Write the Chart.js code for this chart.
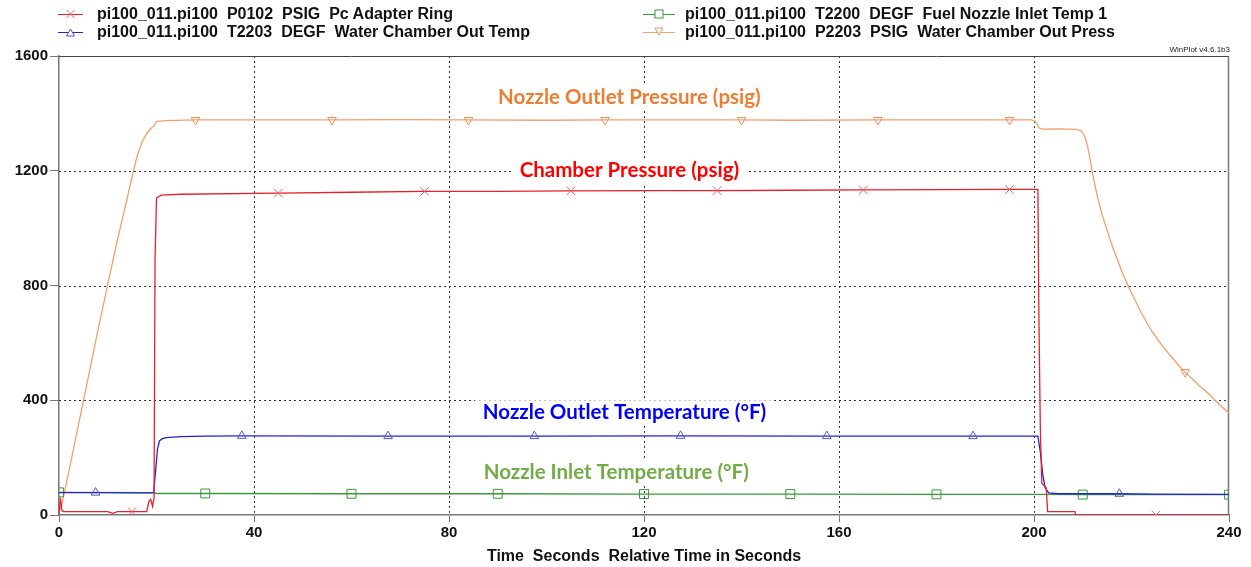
<!DOCTYPE html>
<html lang="en">
<head>
<meta charset="UTF-8">
<title>WinPlot pi100_011</title>
<script src="https://cdn.jsdelivr.net/npm/chart.js@4.4.1/dist/chart.umd.min.js"></script>
<style>
  body { margin: 0; background: #fff; }
  #wrap { position: relative; width: 1251px; height: 567px; font-family: "Liberation Sans", Arial, sans-serif; }
  #chart { position: absolute; left: 0; top: 0; }
  .leg { position: absolute; height: 18px; font-weight: bold; font-size: 16px; line-height: 18px; color: #111; white-space: pre; }
  .leg svg { position: absolute; top: 0; }
  .leg span { position: absolute; top: 0; }
  #ver { position: absolute; right: 21px; top: 45px; font-size: 8px; color: #222; }
</style>
</head>
<body>
<div id="wrap">
  <canvas id="chart" width="1251" height="567"></canvas>
  <div id="legend"></div>
  <div id="ver">WinPlot v4.6.1b3</div>
</div>
<script>
// P0102 PSIG Pc Adapter Ring (chamber pressure)
const pcTime = [0, 0.3, 0.6, 1, 5, 10, 11, 12, 15, 18, 18.4, 18.8, 19.2, 19.5, 19.7, 20, 21, 25, 45, 60, 75, 90, 105, 120, 135, 150, 165, 180, 195, 200.8, 201.0, 201.3, 201.6, 202.5, 202.8, 205, 208.4, 208.5, 215, 225, 240];
const pcPsig = [0, 60, 15, 12, 12, 12, 6, 12, 12, 12, 45, 55, 30, 60, 890, 1105, 1115, 1118, 1122, 1125, 1128, 1128, 1130, 1131, 1131, 1132, 1133, 1134, 1135, 1135, 700, 300, 110, 95, 12, 12, 12, 0, 0, 0, 0];
const pcMarks = [15, 45, 75, 105, 135, 165, 195, 225];

// T2203 DEGF Water Chamber Out Temp (nozzle outlet temperature)
const outTempTime = [0, 7.5, 15, 19.4, 19.8, 20.2, 20.6, 21.2, 22, 25, 30, 37.5, 67.5, 97.5, 127.5, 157.5, 187.5, 200.8, 201.3, 201.8, 202.3, 203, 205, 217.5, 225, 240];
const outTempF = [78, 78, 77, 77, 150, 230, 258, 266, 270, 273, 275, 276, 275, 275, 276, 275, 275, 275, 220, 140, 95, 77, 74, 74, 73, 72];
const outTempMarks = [7.5, 37.5, 67.5, 97.5, 127.5, 157.5, 187.5, 217.5];

// T2200 DEGF Fuel Nozzle Inlet Temp 1
const inTempTime = [0, 19.5, 20, 30, 60, 90, 120, 150, 180, 200, 210, 240];
const inTempF = [79, 78, 75, 75, 74, 74, 73, 73, 72, 72, 71, 71];
const inTempMarks = [0, 30, 60, 90, 120, 150, 180, 210, 240];

// P2203 PSIG Water Chamber Out Press (nozzle outlet pressure)
const outPressTime = [0, 0.5, 2, 4, 6, 8, 10, 12, 14, 15, 16, 17, 18, 19, 19.6, 20, 22, 28, 40, 56, 70, 84, 100, 112, 130, 140, 150, 168, 180, 195, 199.5, 200.3, 201, 201.6, 205, 208.8, 209.8, 210.5, 211, 211.5, 212, 213, 214, 216, 218, 219, 220, 222, 224, 226, 228, 230, 231, 232, 234, 236, 238, 240];
const outPressPsig = [15, 30, 150, 315, 480, 645, 805, 960, 1105, 1180, 1250, 1300, 1330, 1350, 1358, 1372, 1375, 1377, 1377, 1377, 1378, 1377, 1376, 1377, 1377, 1377, 1376, 1377, 1377, 1377, 1377, 1372, 1350, 1345, 1346, 1344, 1338, 1315, 1285, 1240, 1190, 1110, 1045, 940, 850, 810, 775, 705, 645, 597, 555, 515, 498, 482, 450, 420, 385, 355];
const outPressMarks = [28, 56, 84, 112, 140, 168, 195, 231];

const xGrid = [40, 80, 120, 160, 200];
const yGrid = [400, 800, 1200];

const notes = [
  { text: 'Nozzle Outlet Pressure (psig)', x: 117, y: 1457, color: '#ED7D31' },
  { text: 'Chamber Pressure (psig)', x: 117, y: 1200, color: '#FF0000' },
  { text: 'Nozzle Outlet Temperature (°F)', x: 116, y: 358, color: '#0000FF' },
  { text: 'Nozzle Inlet Temperature (°F)', x: 114.3, y: 150, color: '#70AD47' }
];

const series = [
  { label: 'pi100_011.pi100  P0102  PSIG  Pc Adapter Ring', t: pcTime, v: pcPsig, marks: pcMarks,
    color: '#e8202c', mark: '#e8606a', style: 'crossRot', radius: 6, rot: 0 },
  { label: 'pi100_011.pi100  T2203  DEGF  Water Chamber Out Temp', t: outTempTime, v: outTempF, marks: outTempMarks,
    color: '#2424cc', mark: '#5555cc', style: 'triangle', radius: 5, rot: 0 },
  { label: 'pi100_011.pi100  T2200  DEGF  Fuel Nozzle Inlet Temp 1', t: inTempTime, v: inTempF, marks: inTempMarks,
    color: '#3a9a3a', mark: '#3a9a3a', style: 'rect', radius: 6.3, rot: 0 },
  { label: 'pi100_011.pi100  P2203  PSIG  Water Chamber Out Press', t: outPressTime, v: outPressPsig, marks: outPressMarks,
    color: '#f5a06a', mark: '#f08c5c', style: 'triangle', radius: 5, rot: 180 }
];

// legend (two columns like WinPlot)
const legendPos = [
  { left: 58, top: 5, lineW: 25, textX: 39 },
  { left: 58, top: 23, lineW: 25, textX: 39 },
  { left: 643, top: 5, lineW: 32, textX: 42 },
  { left: 643, top: 23, lineW: 32, textX: 42 }
];
const legendEl = document.getElementById('legend');
series.forEach((s, i) => {
  const p = legendPos[i];
  const c = p.lineW / 2;
  let sym = '';
  if (s.style === 'crossRot') sym = `<path d="M${c-4} 5 L${c+4} 13 M${c+4} 5 L${c-4} 13" stroke="${s.mark}" fill="none"/>`;
  else if (s.style === 'rect') sym = `<rect x="${c-4}" y="5" width="8" height="8" stroke="${s.mark}" fill="#fff"/>`;
  else if (s.rot === 180) sym = `<path d="M${c-4} 5 L${c+4} 5 L${c} 12 Z" stroke="${s.mark}" fill="#fff"/>`;
  else sym = `<path d="M${c-4} 13 L${c+4} 13 L${c} 6 Z" stroke="${s.mark}" fill="#fff"/>`;
  const d = document.createElement('div');
  d.className = 'leg';
  d.style.left = p.left + 'px';
  d.style.top = p.top + 'px';
  d.innerHTML = `<svg width="${p.lineW}" height="18"><line x1="0" y1="9.5" x2="${p.lineW}" y2="9.5" stroke="${s.color}"/>${sym}</svg><span style="left:${p.textX}px">${s.label}</span>`;
  legendEl.appendChild(d);
});

Chart.defaults.font.family = '"Liberation Sans", Arial, sans-serif';

const plotDecor = {
  id: 'plotDecor',
  beforeDatasetsDraw(chart) {
    const { ctx, chartArea: a, scales: { x, y } } = chart;
    ctx.save();
    ctx.strokeStyle = '#333';
    ctx.lineWidth = 1;
    ctx.setLineDash([2, 3]);
    xGrid.forEach(v => {
      const px = Math.round(x.getPixelForValue(v)) + 0.5;
      ctx.beginPath(); ctx.moveTo(px, a.top); ctx.lineTo(px, a.bottom); ctx.stroke();
    });
    yGrid.forEach(v => {
      const py = Math.round(y.getPixelForValue(v)) + 0.5;
      ctx.beginPath(); ctx.moveTo(a.left, py); ctx.lineTo(a.right, py); ctx.stroke();
    });
    ctx.setLineDash([]);
    // top and right frame
    ctx.strokeStyle = '#444';
    ctx.beginPath(); ctx.moveTo(a.left, a.top + 0.5); ctx.lineTo(a.right, a.top + 0.5); ctx.stroke();
    ctx.strokeStyle = '#777';
    ctx.lineWidth = 1.5;
    ctx.beginPath(); ctx.moveTo(a.right - 0.5, a.top); ctx.lineTo(a.right - 0.5, a.bottom); ctx.stroke();

    // annotation labels with white boxes
    ctx.font = 'bold 20.5px Lato, "Liberation Sans", sans-serif';
    ctx.textAlign = 'center';
    ctx.textBaseline = 'middle';
    notes.forEach(n => {
      const px = x.getPixelForValue(n.x);
      const py = y.getPixelForValue(n.y);
      const w = ctx.measureText(n.text).width;
      ctx.fillStyle = '#fff';
      ctx.fillRect(px - w / 2 - 8, py - 12, w + 16, 24);
      ctx.fillStyle = n.color;
      ctx.fillText(n.text, px, py);
    });
    ctx.restore();
  }
};

const ctx = document.getElementById('chart').getContext('2d');
new Chart(ctx, {
  type: 'line',
  data: {
    datasets: series.map(s => ({
      label: s.label,
      data: s.t.map((t, i) => ({ x: t, y: s.v[i] })),
      borderColor: s.color,
      borderWidth: 1.3,
      pointStyle: s.style,
      pointRotation: s.rot,
      pointRadius: c => (c.raw && s.marks.includes(c.raw.x)) ? s.radius : 0,
      pointBorderColor: s.mark,
      pointBackgroundColor: 'rgba(255,255,255,0)',
      pointBorderWidth: 1,
      tension: 0
    }))
  },
  options: {
    responsive: false,
    animation: false,
    events: [],
    layout: { padding: { left: 0, top: 56, right: 22, bottom: 0 } },
    plugins: { legend: { display: false }, tooltip: { enabled: false } },
    scales: {
      x: {
        type: 'linear', min: 0, max: 240,
        afterFit(s) { s.height = 52; },
        ticks: { stepSize: 40, color: '#111', padding: 2, font: { size: 15, weight: 'bold' }, maxRotation: 0,
          callback: v => String(v) },
        grid: { drawOnChartArea: false, drawTicks: true, tickLength: 7, color: '#777' },
        border: { display: true, color: '#777', width: 1.5 },
        title: { display: true, text: 'Time  Seconds  Relative Time in Seconds', color: '#111',
          font: { size: 16, weight: 'bold' }, padding: { top: 1, bottom: 1 } }
      },
      y: {
        min: 0, max: 1600,
        afterFit(s) { s.width = 59; },
        ticks: { stepSize: 400, color: '#111', padding: 2, font: { size: 15, weight: 'bold' },
          callback: v => String(v) },
        grid: { drawOnChartArea: false, drawTicks: true, tickLength: 9, color: '#777' },
        border: { display: true, color: '#777', width: 1.5 }
      }
    }
  },
  plugins: [plotDecor]
});
</script>
</body>
</html>
